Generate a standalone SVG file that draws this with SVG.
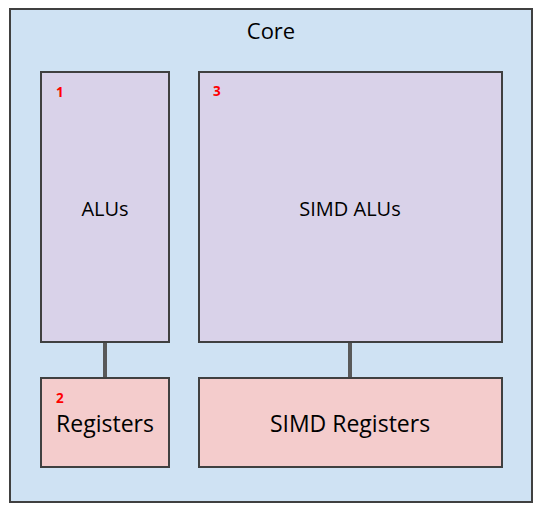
<svg xmlns="http://www.w3.org/2000/svg" width="545" height="514" viewBox="0 0 545 514">
<style>
.box{stroke:#404040;stroke-width:2}
.core{fill:#cfe2f3}
.alu{fill:#d9d2e9}
.reg{fill:#f4cccc}
text{font-family:"Open Sans","Liberation Sans",sans-serif;fill:#000;text-anchor:middle}
.num{fill:#ff0000;font-weight:bold;font-size:13.5px;text-anchor:start}
.conn{stroke:#595959;stroke-width:4}
</style>
<rect width="545" height="514" fill="#fff"/>
<g id="core">
<rect class="box core" x="10" y="9" width="522" height="493"/>
<text x="271" y="39" font-size="22">Core</text>
</g>
<g id="connectors">
<line class="conn" x1="105" y1="342" x2="105" y2="378"/>
<line class="conn" x1="350" y1="342" x2="350" y2="378"/>
</g>
<g id="alus">
<rect class="box alu" x="41" y="72" width="128" height="270"/>
<text class="num" x="56" y="97">1</text>
<text x="105" y="216" font-size="20">ALUs</text>
</g>
<g id="simd-alus">
<rect class="box alu" x="199" y="72" width="303" height="270"/>
<text class="num" x="213" y="96">3</text>
<text x="350" y="216" font-size="20">SIMD ALUs</text>
</g>
<g id="registers">
<rect class="box reg" x="41" y="378" width="128" height="89"/>
<text class="num" x="56" y="403">2</text>
<text x="105" y="432" font-size="23">Registers</text>
</g>
<g id="simd-registers">
<rect class="box reg" x="199" y="378" width="303" height="89"/>
<text x="350" y="432" font-size="23">SIMD Registers</text>
</g>
</svg>
